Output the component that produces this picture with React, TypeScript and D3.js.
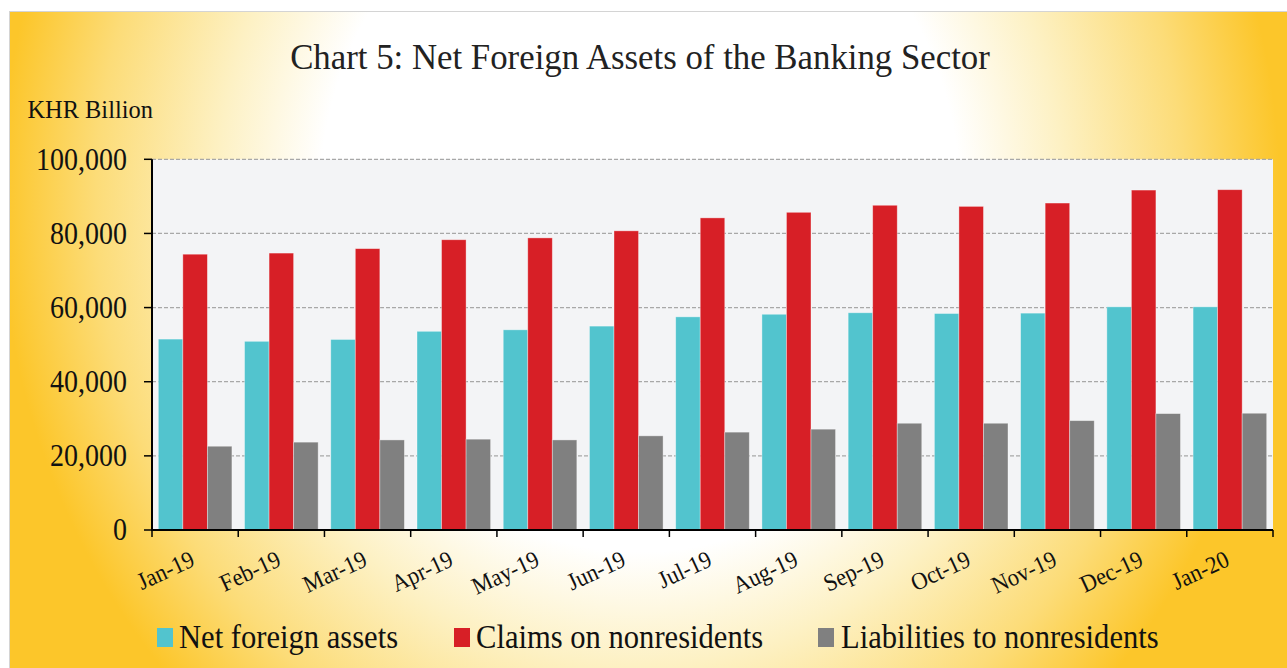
import React from "react";
import * as d3 from "d3";

const months = ["Jan-19","Feb-19","Mar-19","Apr-19","May-19","Jun-19","Jul-19","Aug-19","Sep-19","Oct-19","Nov-19","Dec-19","Jan-20"];
const netForeignAssets = [51500, 50900, 51400, 53600, 54000, 55000, 57500, 58200, 58600, 58400, 58500, 60200, 60200];
const claimsOnNonresidents = [74400, 74700, 75900, 78300, 78800, 80700, 84200, 85700, 87600, 87300, 88200, 91700, 91800];
const liabilitiesToNonresidents = [22600, 23700, 24300, 24500, 24300, 25400, 26400, 27200, 28800, 28800, 29500, 31400, 31500];
const seriesNames = ["Net foreign assets", "Claims on nonresidents", "Liabilities to nonresidents"];
const seriesColors = ["#52c4ce", "#d71f26", "#808080"];
const yTicks = [0, 20000, 40000, 60000, 80000, 100000];

const W = 1287, H = 668;
const PL = 152, PR = 1273, PT = 159.3, PB = 530;
const FONT = "'Liberation Serif', 'Times New Roman', serif";

export default function App() {
  const seriesData = [netForeignAssets, claimsOnNonresidents, liabilitiesToNonresidents];
  const x = d3.scaleBand<string>().domain(months).range([PL, PR]).paddingInner(0).paddingOuter(0);
  const xs = d3.scaleBand<number>().domain([0, 1, 2]).range([0, x.bandwidth()]).paddingInner(0).paddingOuter(0.257);
  const y = d3.scaleLinear().domain([0, 100000]).range([PB, PT]);
  const fmt = d3.format(",");
  const edges = months.map((m) => x(m) as number).concat([PR]);

  const legendItems = [
    { sq: 157, tx: 179 },
    { sq: 454, tx: 476 },
    { sq: 818, tx: 841 },
  ];

  return (
    <svg width={W} height={H} style={{ position: "absolute", left: 0, top: 0 }} fontFamily={FONT}>
      <defs>
        <radialGradient id="bg" gradientUnits="userSpaceOnUse" cx={640} cy={200} r={640}
          gradientTransform="translate(640,200) scale(1,1.1) translate(-640,-200)">
          <stop offset="0" stopColor="#ffffff" />
          <stop offset="0.5" stopColor="#ffffff" />
          <stop offset="0.66" stopColor="#fdf1c4" />
          <stop offset="0.85" stopColor="#fcdc78" />
          <stop offset="1" stopColor="#fcc62a" />
        </radialGradient>
      </defs>
      <rect x={0} y={0} width={W} height={H} fill="#ffffff" />
      <rect x={9.5} y={11.5} width={W} height={H} fill="url(#bg)" stroke="#d4d4d4" strokeWidth={1} />

      <text x={640} y={69} textAnchor="middle" fontSize={34.8} fill="#222">
        Chart 5: Net Foreign Assets of the Banking Sector
      </text>
      <text x={27.5} y={118.3} fontSize={24.4} fill="#111">KHR Billion</text>

      <rect x={PL} y={PT} width={PR - PL} height={PB - PT} fill="#f3f4f6" />
      {yTicks.filter((t) => t > 0).map((t) => (
        <line key={t} x1={PL} x2={PR} y1={y(t)} y2={y(t)} stroke="#a8a8a8" strokeWidth={1.3} strokeDasharray="4,2" />
      ))}

      {months.map((m, i) => (
        <g key={m}>
          {seriesData.map((s, k) => (
            <rect key={k}
              x={(x(m) as number) + (xs(k) as number)}
              y={y(s[i])}
              width={xs.bandwidth()}
              height={PB - y(s[i])}
              fill={seriesColors[k]}
              stroke="#ffffff" strokeOpacity={0.45} strokeWidth={0.8} />
          ))}
        </g>
      ))}

      <line x1={PL} x2={PL} y1={PT} y2={PB + 1} stroke="#000" strokeWidth={2} />
      <line x1={PL - 1} x2={PR} y1={PB} y2={PB} stroke="#000" strokeWidth={2} />
      {yTicks.map((t) => (
        <g key={t}>
          <line x1={144} x2={PL} y1={y(t)} y2={y(t)} stroke="#000" strokeWidth={1.5} />
          <text x={127} y={y(t) + 9.5} textAnchor="end" fontSize={28} fill="#111"
            transform={`translate(0,${y(t)}) scale(1,1.1) translate(0,${-y(t)})`}>{fmt(t)}</text>
        </g>
      ))}
      {edges.map((e, i) => (
        <line key={i} x1={e} x2={e} y1={PB} y2={PB + 7} stroke="#000" strokeWidth={1.5} />
      ))}
      {months.map((m) => {
        const cx = (x(m) as number) + x.bandwidth() / 2;
        return (
          <text key={m} x={0} y={0} textAnchor="end" fontSize={22.5} fill="#111"
            transform={`translate(${cx + 1},${565}) rotate(-25) scale(1,1.08)`}>{m}</text>
        );
      })}

      {legendItems.map((l, k) => (
        <g key={k}>
          <rect x={l.sq} y={628} width={16} height={19} fill={seriesColors[k]} />
          <text x={l.tx} y={0} fontSize={30.6} fill="#111"
            transform={`translate(0,648) scale(1,1.12)`}>{seriesNames[k]}</text>
        </g>
      ))}
    </svg>
  );
}
